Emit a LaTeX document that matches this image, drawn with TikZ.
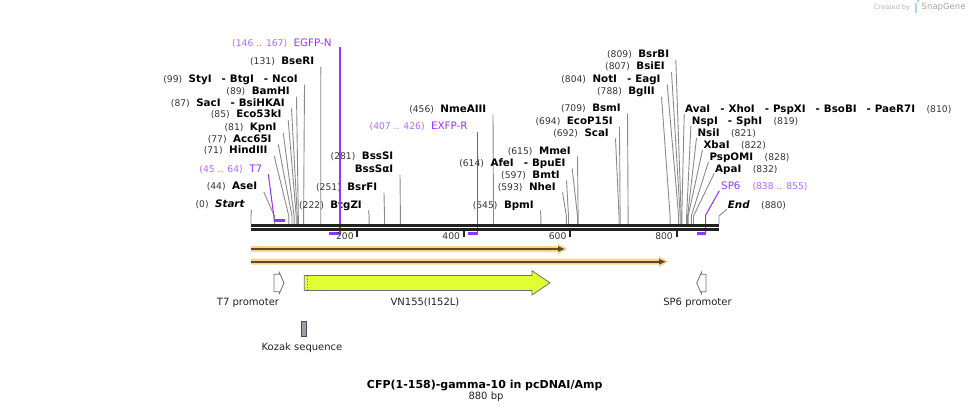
\documentclass[tikz,border=0pt]{standalone}
\usepackage{fontspec}
\setmainfont{DejaVu Sans}
\usetikzlibrary{calc}
\definecolor{numc}{HTML}{333333}
\definecolor{cutc}{HTML}{8A8A8A}
\definecolor{prim}{HTML}{9933FF}
\definecolor{primlt}{HTML}{B266FF}
\definecolor{bbc}{HTML}{222222}
\definecolor{orfo}{HTML}{FCD38A}
\definecolor{orfd}{HTML}{5A4A32}
\definecolor{vnc}{HTML}{E0FF33}
\definecolor{kzc}{HTML}{9EA0A8}
\definecolor{featc}{HTML}{707070}
\definecolor{logoc}{HTML}{A8D8F0}
\newcommand{\numfnt}{\fontsize{9.2}{11}\selectfont\mdseries}
\newcommand{\lblfnt}{\fontsize{10.3}{12}\selectfont\bfseries}
\newcommand{\regfnt}{\fontsize{10.3}{12}\selectfont\mdseries}
\newcommand{\nm}[1]{{\numfnt\color{numc}#1}}
\newcommand{\pn}[1]{{\numfnt\color{primlt}#1}}
\newcommand{\dsh}{\hspace{10pt}-\hspace{4pt}}
\newcommand{\gp}{\hspace{6.5pt}}
\newcommand{\rg}{\hspace{11.5pt}}
\tikzset{
  lab/.style={inner sep=0pt, font=\lblfnt, text=black},
  plab/.style={inner sep=0pt, font=\regfnt, text=prim},
  cut/.style={draw=cutc, line width=0.9pt},
  primline/.style={draw=prim, line width=1.05pt},
  primbar/.style={draw=prim, line width=2.6pt},
  featline/.style={draw=featc, line width=0.8pt},
  ftlab/.style={inner sep=0pt, font=\fontsize{10}{12}\selectfont, text=bbc},
  ticklab/.style={inner sep=0pt, font=\numfnt, text=numc, anchor=east},
}
% left-side label: name, end x, centre y, site x, text
\newcommand{\lsite}[5]{%
  \node[lab, anchor=base east] (#1) at (#2,{#3+3.8}) {#5};
  \coordinate (#1s) at (#4,224);
  \draw[cut] ($(#1.base east)+(6.5,2.2)$) -- ($(#1s)+(0,-8)$) -- (#1s);
}
% right-side label: name, start x, centre y, site x, text
\newcommand{\rsite}[5]{%
  \node[lab, anchor=base west] (#1) at (#2,{#3+3.8}) {#5};
  \coordinate (#1s) at (#4,224);
  \draw[cut] ($(#1.base west)+(-0.8,1.2)$) -- ($(#1s)+(0,-8)$) -- (#1s);
}
\begin{document}
\begin{tikzpicture}[x=1pt,y=-1pt]
\useasboundingbox (0,0) rectangle (971,413);

% watermark
\node[inner sep=0pt, anchor=west, font=\fontsize{6.5}{7}\selectfont, text=black!30] (wm1) at (874,7.5) {Created by};
\fill[logoc] (914.5,2.5) rectangle (917,12.5);
\fill[logoc] (917,2.5) arc (90:-90:2.6) -- cycle;
\node[inner sep=0pt, anchor=west, font=\fontsize{8.5}{9}\selectfont, text=black!35] (wm2) at (921.5,7.5) {SnapGene};

% restriction sites, left side labels
\lsite{start}{245}{204}{251}{\nm{(0)}\gp\textit{Start}}
\lsite{ase}{257.3}{186}{274.4}{\nm{(44)}\gp AseI}
\lsite{hind}{267.7}{150}{288.8}{\nm{(71)}\gp HindIII}
\lsite{acc}{271.7}{138.3}{292.0}{\nm{(77)}\gp Acc65I}
\lsite{kpn}{276.7}{126.7}{294.1}{\nm{(81)}\gp KpnI}
\lsite{eco}{281.7}{114}{296.2}{\nm{(85)}\gp Eco53kI}
\lsite{sac}{285}{102.3}{297.3}{\nm{(87)}\gp SacI\dsh BsiHKAI}
\lsite{bam}{290}{90.7}{298.3}{\nm{(89)}\gp BamHI}
\lsite{sty}{298}{78.7}{303.6}{\nm{(99)}\gp StyI\dsh BtgI\dsh NcoI}
\lsite{bse}{314.3}{60.7}{320.7}{\nm{(131)}\gp BseRI}
\lsite{btgz}{362}{204.3}{369.1}{\nm{(222)}\gp BtgZI}
\lsite{bsrf}{377.5}{186.7}{384.5}{\nm{(251)}\gp BsrFI}
\node[lab, anchor=base east] (bsss) at (393.5,159.8) {\nm{(281)}\gp BssSI};
\lsite{bssa}{393.5}{168.7}{400.4}{BssSαI}
\lsite{nme}{486.5}{108.3}{493.5}{\nm{(456)}\gp NmeAIII}
\lsite{bpm}{534}{204.3}{540.8}{\nm{(545)}\gp BpmI}
\lsite{nhe}{556}{186.3}{566.4}{\nm{(593)}\gp NheI}
\lsite{bmt}{560}{174.3}{568.5}{\nm{(597)}\gp BmtI}
\lsite{afe}{565.7}{162.3}{577.5}{\nm{(614)}\gp AfeI\dsh BpuEI}
\lsite{mme}{571}{150.3}{578.1}{\nm{(615)}\gp MmeI}
\lsite{sca}{609}{132.3}{619.0}{\nm{(692)}\gp ScaI}
\lsite{ecop}{613}{120.7}{620.1}{\nm{(694)}\gp EcoP15I}
\lsite{bsm}{621}{107.3}{628.1}{\nm{(709)}\gp BsmI}
\lsite{bgl}{655}{90.7}{670.1}{\nm{(788)}\gp BglII}
\lsite{not}{660.7}{78.3}{678.6}{\nm{(804)}\gp NotI\dsh EagI}
\lsite{bsie}{665}{66}{680.2}{\nm{(807)}\gp BsiEI}
\lsite{bsrb}{669.3}{54}{681.2}{\nm{(809)}\gp BsrBI}

% right side labels
\rsite{ava}{685}{109}{681.8}{AvaI\dsh XhoI\dsh PspXI\dsh BsoBI\dsh PaeR7I\rg\nm{(810)}}
\rsite{nsp}{691.7}{120.7}{686.6}{NspI\dsh SphI\rg\nm{(819)}}
\rsite{nsi}{697.3}{133}{687.6}{NsiI\rg\nm{(821)}}
\rsite{xba}{703.3}{144.7}{688.2}{XbaI\rg\nm{(822)}}
\rsite{pspo}{709.3}{156.7}{691.3}{PspOMI\rg\nm{(828)}}
\rsite{apa}{715}{168.3}{693.5}{ApaI\rg\nm{(832)}}
\rsite{endl}{727.7}{204.3}{719.0}{\textit{End}\rg\nm{(880)}}

% primers
\node[plab, anchor=base east] (t7p) at (262.3,172.1) {\pn{(45 .. 64)}\gp T7};
\coordinate (t7a) at (274.4,220.7);
\coordinate (t7b) at (284.8,220.7);
\draw[primline] ($(t7p.base east)+(6,2)$) -- (t7a);
\draw[primbar] (t7a) -- (t7b);

\node[plab, anchor=base east] (egfp) at (331.7,46.5) {\pn{(146 .. 167)}\gp EGFP-N};
\coordinate (ega) at (328.6,233.7);
\coordinate (egb) at (340,233.7);
\draw[primline] ($(egb |- egfp.base)+(0,0.5)$) -- (egb);
\draw[primbar] (ega) -- (egb);

\node[plab, anchor=base east] (exfp) at (467.7,129.8) {\pn{(407 .. 426)}\gp EXFP-R};
\coordinate (exa) at (467.5,233.7);
\coordinate (exb) at (477.6,233.7);
\draw[primline] ($(exb |- exfp.base)+(0,2)$) -- (exb);
\draw[primbar] (exa) -- (exb);

\node[plab, anchor=base west] (sp6p) at (721,189.8) {SP6\hspace{12pt}\pn{(838 .. 855)}};
\coordinate (spa) at (696.7,233.7);
\coordinate (spb) at (705.7,233.7);
\draw[primline] ($(sp6p.base west)+(-1.7,1)$) -- ($(spb)+(0,-18.7)$) -- (spb);
\draw[primbar] (spa) -- (spb);

% backbone
\coordinate (b0) at (251,225.3);
\coordinate (b1) at (719,225.3);
\coordinate (c0) at (251,229.3);
\coordinate (c1) at (719,229.3);
\draw[bbc, line width=2.7pt] (b0) -- (b1);
\draw[bbc, line width=2.7pt] (c0) -- (c1);
\foreach \v/\x in {200/357.4,400/463.7,600/570.1,800/676.5}{
  \draw[bbc, line width=2pt] (\x,230.5) -- (\x,236.5);
  \node[ticklab] (tk\v) at (\x-3.5,236.3) {\v};
}

% ORFs
\fill[orfo] (251,246) -- (558,246) -- (558,243.5) -- (567,249) -- (558,254.5) -- (558,252) -- (251,252) -- cycle;
\draw[orfd, line width=1.8pt] (251,249) -- (560,249);
\fill[orfd] (558,246.2) -- (564.5,249) -- (558,251.8) -- cycle;
\fill[orfo] (251,258.7) -- (659,258.7) -- (659,256.2) -- (668,261.7) -- (659,267.2) -- (659,264.7) -- (251,264.7) -- cycle;
\draw[orfd, line width=1.8pt] (251,261.7) -- (661,261.7);
\fill[orfd] (659,258.9) -- (665.5,261.7) -- (659,264.5) -- cycle;

% features
\draw[featline, fill=white] (274,274.3) -- (279.3,274.3) -- (279.3,272.5) -- (284,283) -- (279.3,293.5) -- (279.3,291.7) -- (274,291.7) -- cycle;
\draw[featline, fill=white] (706,274.3) -- (701.4,274.3) -- (701.4,272.5) -- (696.7,283) -- (701.4,293.5) -- (701.4,291.7) -- (706,291.7) -- cycle;
\draw[featline, fill=vnc] (304.3,275.4) -- (532,275.4) -- (532,270.7) -- (550,282.9) -- (532,295) -- (532,290.4) -- (304.3,290.4) -- cycle;
\draw[featc, line width=0.7pt, dotted] (307,275.8) -- (307,290);
\draw[draw=black!70, line width=0.8pt, fill=kzc] (301.4,321.4) rectangle (306.4,336.4);

\node[ftlab] (t7l) at (248,302.5) {T7 promoter};
\node[ftlab] (vnl) at (425,302.5) {VN155(I152L)};
\node[ftlab] (sp6l) at (697.5,302.5) {SP6 promoter};
\node[ftlab] (kzl) at (302,347.5) {Kozak sequence};

% title
\node[inner sep=0pt, font=\fontsize{11}{13}\selectfont\bfseries, text=black] (title) at (484.7,385.5) {CFP(1-158)-gamma-10 in pcDNAI/Amp};
\node[inner sep=0pt, font=\fontsize{10}{12}\selectfont, text=bbc] (bp) at (486,397) {880 bp};
\end{tikzpicture}
\end{document}
